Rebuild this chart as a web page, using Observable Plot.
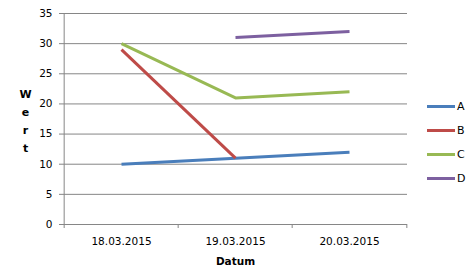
<!DOCTYPE html>
<html>
<head>
<meta charset="utf-8">
<script src="https://cdn.jsdelivr.net/npm/d3@7"></script>
<script src="https://cdn.jsdelivr.net/npm/@observablehq/plot@0.6"></script>
<style>
  html, body { margin: 0; padding: 0; background: #fff; }
  #wrap { position: relative; width: 470px; height: 269px; font-family: "DejaVu Sans", Verdana, sans-serif; }
  #legend { position: absolute; left: 427px; top: 94px; font-size: 11px; color: #000; }
  .item { display: flex; align-items: center; height: 24px; }
  .swatch { width: 28px; height: 3px; margin-right: 2px; }
  svg [aria-label="x-axis label"] { font-weight: bold; }
</style>
</head>
<body>
<div id="wrap"></div>
<script>
const categories = ["18.03.2015", "19.03.2015", "20.03.2015"];
const seriesNames = ["A", "B", "C", "D"];
const seriesColors = ["#4A7EBB", "#BE4B48", "#98B954", "#7D60A0"];
const valuesA = [10, 11, 12];
const valuesB = [29, 11, null];
const valuesC = [30, 21, 22];
const valuesD = [null, 31, 32];
const yTicks = [0, 5, 10, 15, 20, 25, 30, 35];
const xLabel = "Datum";
const yLabel = "W\ne\nr\nt";

const seriesValues = [valuesA, valuesB, valuesC, valuesD];
const rows = [];
seriesNames.forEach((s, i) => {
  categories.forEach((c, j) => {
    const v = seriesValues[i][j];
    rows.push({series: s, date: c, value: v == null ? NaN : v});
  });
});

const W = 470, H = 269, ML = 63, MR = 63, MT = 13, MB = 45;
const step = (W - ML - MR) / categories.length;
const gray = "#868686";

const plot = Plot.plot({
  width: W,
  height: H,
  marginLeft: ML,
  marginRight: MR,
  marginTop: MT,
  marginBottom: MB,
  style: {fontFamily: "DejaVu Sans, Verdana, sans-serif", fontSize: "10.5px", color: "#000", background: "#fff"},
  x: {type: "point", domain: categories, padding: 0.5},
  y: {domain: [0, 35]},
  color: {domain: seriesNames, range: seriesColors},
  marks: [
    Plot.ruleY(yTicks, {stroke: gray, strokeWidth: 1, strokeOpacity: 1}),
    Plot.ruleX([categories[0]], {y1: 0, y2: 35, dx: -step / 2, stroke: gray, strokeOpacity: 1}),
    Plot.ruleX(categories, {y1: 0, y2: 0, insetBottom: -4, dx: -step / 2, stroke: gray, strokeOpacity: 1}),
    Plot.ruleX([categories[categories.length - 1]], {y1: 0, y2: 0, insetBottom: -4, dx: step / 2, stroke: gray, strokeOpacity: 1}),
    Plot.axisY(yTicks, {tickSize: 4, tickPadding: 7, stroke: gray, strokeOpacity: 1, label: null, fill: "#000"}),
    Plot.axisX({tickSize: 0, tickPadding: 13.5, label: xLabel, labelAnchor: "center", labelArrow: "none", labelOffset: 40.5, fill: "#000"}),
    Plot.line(rows, {x: "date", y: "value", z: "series", stroke: "series", strokeWidth: 3, strokeLinejoin: "round", strokeLinecap: "butt"}),
    Plot.text([yLabel], {frameAnchor: "left", dx: -38, text: d => d, fontWeight: "bold", fontSize: 11, lineHeight: 1.64, textAnchor: "middle", fill: "#000"})
  ]
});

const wrap = document.getElementById("wrap");
wrap.appendChild(plot);

const legend = document.createElement("div");
legend.id = "legend";
seriesNames.forEach((s, i) => {
  const item = document.createElement("div");
  item.className = "item";
  const sw = document.createElement("div");
  sw.className = "swatch";
  sw.style.background = seriesColors[i];
  const label = document.createElement("span");
  label.textContent = s;
  item.appendChild(sw);
  item.appendChild(label);
  legend.appendChild(item);
});
wrap.appendChild(legend);
</script>
</body>
</html>
